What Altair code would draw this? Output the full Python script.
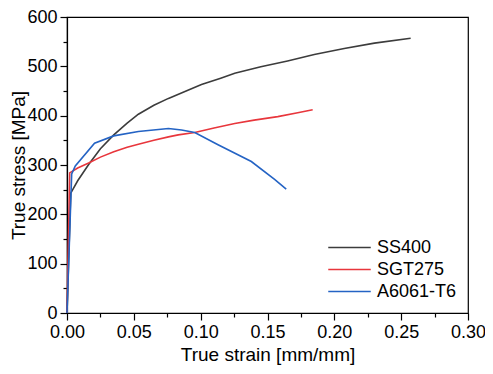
import altair as alt
import pandas as pd

ss400_strain = [0, 0.0028, 0.008, 0.0162, 0.025, 0.035, 0.045, 0.0534, 0.065, 0.0759, 0.09, 0.1006, 0.115, 0.1255, 0.145, 0.165, 0.185, 0.2074, 0.23, 0.2571]
ss400_stress = [0, 243, 268, 301, 333, 361, 385, 403, 421, 435, 451, 463, 476, 486, 499, 511, 524, 536, 547, 557]

sgt_strain = [0, 0.002, 0.008, 0.0162, 0.025, 0.035, 0.045, 0.0534, 0.065, 0.0759, 0.0832, 0.0956, 0.11, 0.1255, 0.14, 0.1577, 0.1726, 0.1838]
sgt_stress = [0, 284, 294, 304, 316, 327, 336, 342, 350, 357, 361, 366, 375, 384, 391, 398, 406, 412]

al_strain = [0, 0.0035, 0.0062, 0.0206, 0.0349, 0.0534, 0.0759, 0.0857, 0.0956, 0.113, 0.1379, 0.1553, 0.164]
al_stress = [0, 282, 298, 344, 359, 368, 374, 371, 366, 341, 307, 271, 251]

series = ["SS400", "SGT275", "A6061-T6"]
colors = ["#3c3c3c", "#e8363c", "#2463c4"]

x_major = [0, 0.05, 0.10, 0.15, 0.20, 0.25, 0.30]
x_minor = [0.025, 0.075, 0.125, 0.175, 0.225, 0.275]
y_major = [0, 100, 200, 300, 400, 500, 600]
y_minor = [50, 150, 250, 350, 450, 550]

rows = []
for name, xs, ys in [("SS400", ss400_strain, ss400_stress),
                     ("SGT275", sgt_strain, sgt_stress),
                     ("A6061-T6", al_strain, al_stress)]:
    for i, (a, b) in enumerate(zip(xs, ys)):
        rows.append({"series": name, "strain": a, "stress": b, "idx": i})
df = pd.DataFrame(rows)

FONT = "Liberation Sans"

xscale = alt.Scale(domain=[0, 0.30], nice=False, zero=False)
yscale = alt.Scale(domain=[0, 600], nice=False)

lines = alt.Chart(df).mark_line(strokeWidth=1.6).encode(
    x=alt.X("strain:Q", scale=xscale,
            axis=alt.Axis(values=x_major, format=".2f", title="True strain [mm/mm]",
                          orient="bottom", tickSize=7, labelPadding=3, titlePadding=4,
                          labelFlush=False, labelOverlap=False)),
    y=alt.Y("stress:Q", scale=yscale,
            axis=alt.Axis(values=y_major, format="d", title="True stress [MPa]",
                          orient="left", tickSize=7, labelPadding=3,
                          titleX=-49, titleBaseline="middle", titleAngle=270,
                          labelFlush=False, labelOverlap=False)),
    color=alt.Color("series:N", scale=alt.Scale(domain=series, range=colors),
                    legend=alt.Legend(title=None, orient="none", legendX=273, legendY=221,
                                      symbolType="M-2.5,0H2.5", symbolSize=289, symbolStrokeWidth=1.6,
                                      labelFontSize=18, labelFont=FONT, labelColor="black",
                                      rowPadding=3, labelOffset=18, padding=0)),
    order="idx:Q",
)

minor = alt.Chart(df).mark_line(opacity=0).encode(
    x=alt.X("strain:Q", scale=xscale,
            axis=alt.Axis(values=x_minor, labels=False, domain=False, tickSize=4,
                          title=None, orient="bottom", grid=False)),
    y=alt.Y("stress:Q", scale=yscale,
            axis=alt.Axis(values=y_minor, labels=False, domain=False, tickSize=4,
                          title=None, orient="left", grid=False)),
    detail="series:N",
    order="idx:Q",
)

chart = alt.layer(lines, minor).resolve_axis(x="independent", y="independent").properties(
    width=401, height=296,
    background="white",
    autosize=alt.AutoSizeParams(type="none"),
    padding={"left": 59, "top": 9, "right": 17, "bottom": 53},
).configure_view(stroke="black", strokeWidth=1.2).configure_axis(
    grid=False, labelFont=FONT, titleFont=FONT, labelFontSize=18, titleFontSize=19,
    labelColor="black", titleColor="black", domainColor="black", tickColor="black",
    domainWidth=1.2, tickWidth=1.2, titleFontWeight="normal",
)

chart.save("out.html", embed_options={"renderer": "svg", "actions": False})
